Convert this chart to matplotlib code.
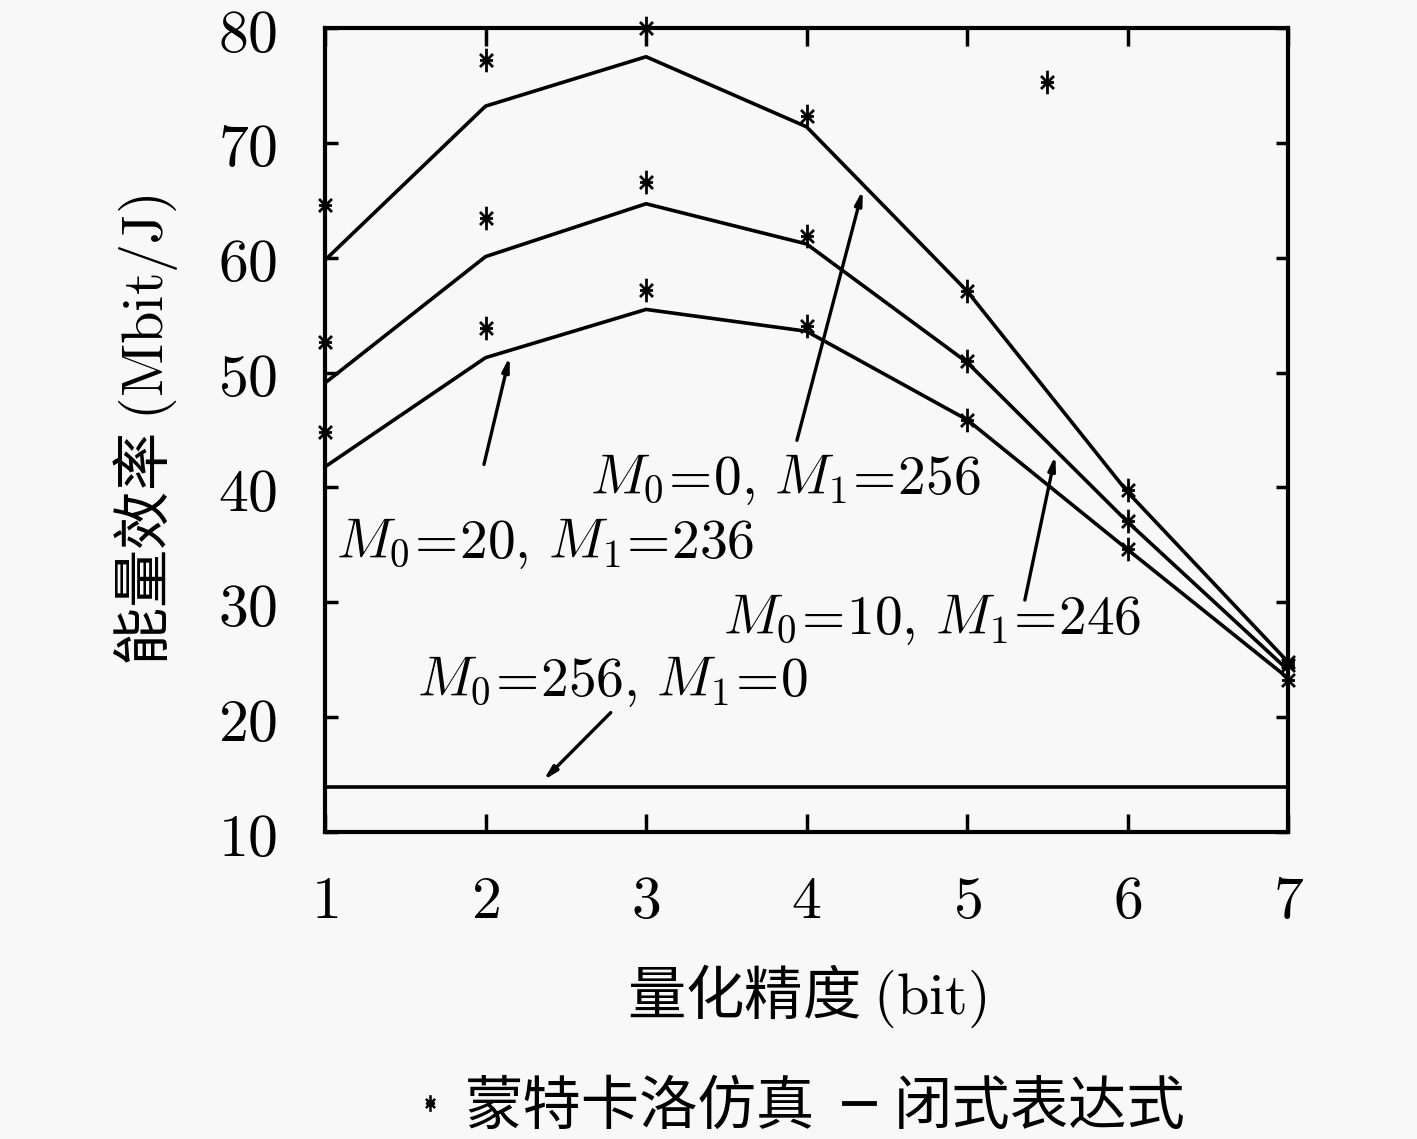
import matplotlib
matplotlib.use("Agg")
import matplotlib.pyplot as plt
from matplotlib.lines import Line2D
from matplotlib.path import Path
from matplotlib.ticker import FuncFormatter

plt.rcParams['mathtext.fontset'] = 'cm'
plt.rcParams['font.family'] = ['Noto Sans CJK SC', 'DejaVu Sans']

# quantisation bits
bits = [1, 2, 3, 4, 5, 6, 7]

# closed-form curves
closed_m0_0 = [59.8, 73.2, 77.5, 71.4, 57.1, 39.6, 24.8]
closed_m0_10 = [49.1, 60.1, 64.7, 61.2, 50.9, 37.0, 24.1]
closed_m0_20 = [41.8, 51.3, 55.5, 53.6, 45.9, 34.6, 23.4]
closed_m0_256 = 13.9

# Monte Carlo points
mc_m0_0 = [64.6, 77.2, 80.0, 72.3, 57.1, 39.8, 24.8]
mc_m0_10 = [52.7, 63.5, 66.6, 61.9, 51.0, 37.1, 24.5]
mc_m0_20 = [44.8, 53.9, 57.2, 54.1, 45.9, 34.6, 23.2]
mc_extra_x = [5.5]
mc_extra_y = [75.3]

labels = [r'$M_0\!=\!0,\, M_1\!=\!256$', r'$M_0\!=\!20,\, M_1\!=\!236$',
          r'$M_0\!=\!10,\, M_1\!=\!246$', r'$M_0\!=\!256,\, M_1\!=\!0$']

# gnuplot-like tall asterisk
star = Path([(0, -1), (0, 1), (-0.55, -0.55), (0.55, 0.55), (-0.55, 0.55), (0.55, -0.55), (-0.55, 0), (0.55, 0)],
            [Path.MOVETO, Path.LINETO] * 4)

bg = '#f8f8f8'
fig = plt.figure(figsize=(14.17, 11.39), dpi=100, facecolor=bg)
ax = fig.add_axes([0.2294, 0.2695, 0.6796, 0.7059])
ax.set_facecolor(bg)

lw = 2.6
for yy in (closed_m0_0, closed_m0_10, closed_m0_20):
  ax.plot(bits, yy, 'k-', lw=lw)
ax.plot([bits[0], bits[-1]], [closed_m0_256, closed_m0_256], 'k-', lw=lw)

for yy in (mc_m0_0, mc_m0_10, mc_m0_20):
  ax.plot(bits, yy, ls='none', marker=star, ms=17, mew=2.0, color='k', clip_on=False, zorder=5)
ax.plot(mc_extra_x, mc_extra_y, ls='none', marker=star, ms=17, mew=2.0, color='k', clip_on=False)

ax.set_xlim(1, 7)
ax.set_ylim(10, 80)
ax.set_xticks(bits)
ax.set_yticks(range(10, 81, 10))
fmt = FuncFormatter(lambda v, p: '$%d$' % v)
ax.xaxis.set_major_formatter(fmt)
ax.yaxis.set_major_formatter(fmt)
ax.tick_params(axis='both', direction='in', top=True, right=True, width=2.5, labelsize=43)
ax.tick_params(axis='x', length=13, pad=28)
ax.tick_params(axis='y', length=9, pad=34)
for s in ax.spines.values():
  s.set_linewidth(3)

ax.set_xlabel(r'量化精度 $\mathrm{(bit)}$', fontsize=42, labelpad=22)
ax.set_ylabel(r'能量效率 $\mathrm{(Mbit/J)}$', fontsize=42, labelpad=28)

# labels and arrows
text_pos = [(3.87, 40.8), (2.37, 35.2), (4.78, 28.6), (2.79, 23.2)]
arrow_tail = [(3.94, 44.1), (1.99, 42.0), (5.36, 30.2), (2.78, 20.4)]
arrow_head = [(4.35, 65.9), (2.15, 51.4), (5.55, 42.8), (2.36, 14.5)]
for lab, tp, at, ah in zip(labels, text_pos, arrow_tail, arrow_head):
  ax.text(tp[0], tp[1], lab, fontsize=40, ha='center', va='center')
  ax.annotate('', xy=ah, xytext=at,
              arrowprops=dict(arrowstyle='-|>,head_length=0.8,head_width=0.2', color='k', lw=2.4,
                              shrinkA=0, shrinkB=0))

handles = [Line2D([], [], ls='none', marker=star, ms=12, mew=1.8, color='k'),
           Line2D([], [], ls='-', lw=3.5, color='k')]
fig.legend(handles, ['蒙特卡洛仿真', '闭式表达式'], loc='center', bbox_to_anchor=(0.565, 0.028),
           ncol=2, frameon=False, fontsize=42, handlelength=0.5, handletextpad=0.35, columnspacing=0.5)

fig.savefig('out.png', dpi=100, facecolor=bg)
